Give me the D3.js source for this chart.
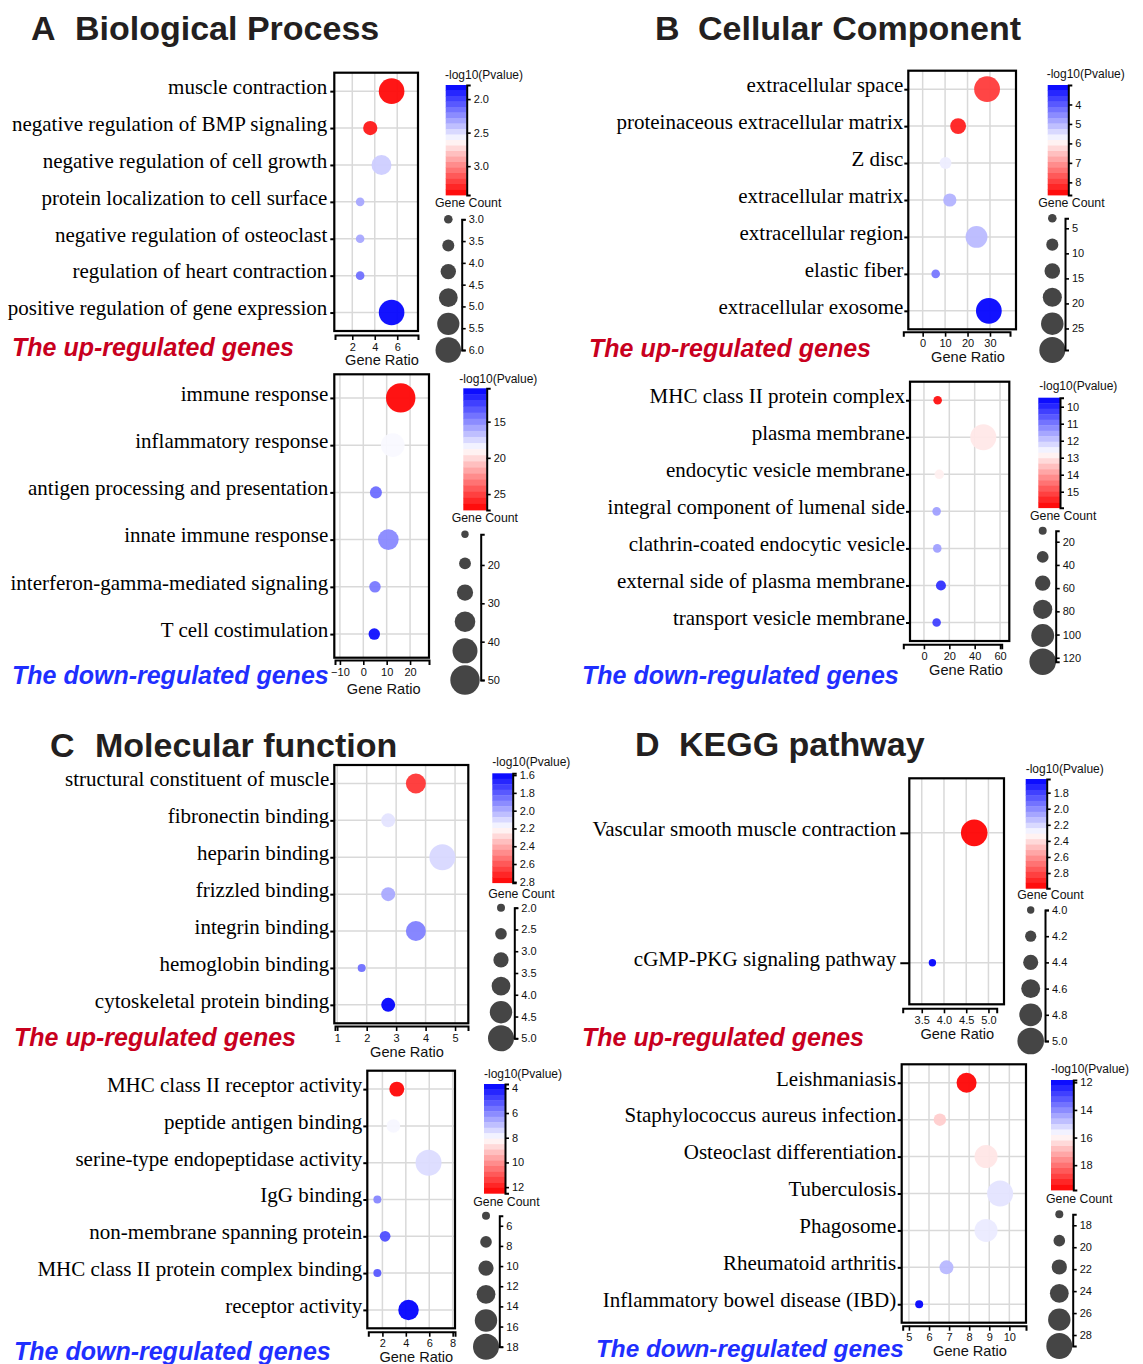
<!DOCTYPE html>
<html><head><meta charset="utf-8">
<script src="https://cdn.jsdelivr.net/npm/d3@7"></script>
<style>body{margin:0;background:#fff} svg{display:block}</style>
</head><body>
<svg id="chart" width="1143" height="1364"></svg>
<script>
// ---------------- DATA ----------------
// A  Biological Process — up-regulated
const A_up_terms = ["muscle contraction","negative regulation of BMP signaling","negative regulation of cell growth","protein localization to cell surface","negative regulation of osteoclast","regulation of heart contraction","positive regulation of gene expression"];
const A_up_ratio = [5.5, 3.6, 4.6, 2.7, 2.7, 2.7, 5.5];
const A_up_logp  = [3.40, 3.35, 2.45, 2.33, 2.33, 2.15, 1.81];
const A_up_count = [6, 4, 5, 3, 3, 3, 6];
const A_up_xTicks = [2, 4, 6];
const A_up_cTicks = [2.0, 2.5, 3.0];
const A_up_sTicks = [3.0, 3.5, 4.0, 4.5, 5.0, 5.5, 6.0];
const A_up_xDomain = [0.4, 7.85], A_up_cDomain = [1.79, 3.43], A_up_sDomain = [3, 6];

// A — down-regulated
const A_dn_terms = ["immune response","inflammatory response","antigen processing and presentation","innate immune response","interferon-gamma-mediated signaling","T cell costimulation"];
const A_dn_ratio = [16.0, 12.6, 5.4, 10.7, 5.0, 4.7];
const A_dn_logp  = [27.0, 18.6, 14.0, 14.9, 14.4, 10.9];
const A_dn_count = [50, 40, 20, 35, 19, 19];
const A_dn_xTicks = [-10, 0, 10, 20];
const A_dn_cTicks = [15, 20, 25];
const A_dn_sTicks = [20, 30, 40, 50];
const A_dn_xDomain = [-12.4, 28.1], A_dn_cDomain = [10.4, 27.2], A_dn_sDomain = [12, 50];

// B  Cellular Component — up
const B_up_terms = ["extracellular space","proteinaceous extracellular matrix","Z disc","extracellular matrix","extracellular region","elastic fiber","extracellular exosome"];
const B_up_ratio = [28.7, 15.8, 10.2, 12.1, 24.0, 5.8, 29.5];
const B_up_logp  = [8.0, 8.3, 5.63, 4.98, 5.07, 4.33, 3.05];
const B_up_count = [29, 14, 8, 10, 23, 3, 29];
const B_up_xTicks = [0, 10, 20, 30];
const B_up_cTicks = [4, 5, 6, 7, 8];
const B_up_sTicks = [5, 10, 15, 20, 25];
const B_up_xDomain = [-6.4, 41.6], B_up_cDomain = [3.0, 8.65], B_up_sDomain = [3, 29.3];

// B — down
const B_dn_terms = ["MHC class II protein complex","plasma membrane","endocytic vesicle membrane","integral component of lumenal side","clathrin-coated endocytic vesicle","external side of plasma membrane","transport vesicle membrane"];
const B_dn_ratio = [10.8, 46.8, 12.1, 10.0, 10.5, 13.4, 10.0];
const B_dn_logp  = [15.74, 13.0, 12.9, 11.5, 11.5, 10.1, 10.3];
const B_dn_count = [14, 120, 19, 14, 14, 23, 14];
const B_dn_xTicks = [0, 20, 40, 60];
const B_dn_cTicks = [10, 11, 12, 13, 14, 15];
const B_dn_sTicks = [20, 40, 60, 80, 100, 120];
const B_dn_xDomain = [-11, 67.3], B_dn_cDomain = [9.47, 15.94], B_dn_sDomain = [10.5, 123.4];

// C  Molecular function — up
const C_up_terms = ["structural constituent of muscle","fibronectin binding","heparin binding","frizzled binding","integrin binding","hemoglobin binding","cytoskeletal protein binding"];
const C_up_ratio = [3.67, 2.73, 4.57, 2.73, 3.67, 1.83, 2.73];
const C_up_logp  = [2.68, 2.13, 2.10, 1.99, 1.89, 1.85, 1.59];
const C_up_count = [4, 3, 5, 3, 4, 2, 3];
const C_up_xTicks = [1, 2, 3, 4, 5];
const C_up_cTicks = [1.6, 1.8, 2.0, 2.2, 2.4, 2.6, 2.8];
const C_up_sTicks = [2.0, 2.5, 3.0, 3.5, 4.0, 4.5, 5.0];
const C_up_xDomain = [0.9, 5.45], C_up_cDomain = [1.58, 2.81], C_up_sDomain = [2, 5];

// C — down
const C_dn_terms = ["MHC class II receptor activity","peptide antigen binding","serine-type endopeptidase activity","IgG binding","non-membrane spanning protein","MHC class II protein complex binding","receptor activity"];
const C_dn_ratio = [3.23, 2.94, 5.94, 1.57, 2.23, 1.57, 4.23];
const C_dn_logp  = [12.4, 7.94, 7.46, 6.0, 5.0, 5.2, 3.7];
const C_dn_count = [10, 9, 18, 5, 7, 5, 14];
const C_dn_xTicks = [2, 4, 6, 8];
const C_dn_cTicks = [4, 6, 8, 10, 12];
const C_dn_sTicks = [6, 8, 10, 12, 14, 16, 18];
const C_dn_xDomain = [0.71, 8.2], C_dn_cDomain = [3.65, 12.5], C_dn_sDomain = [5, 18];

// D  KEGG pathway — up
const D_up_terms = ["Vascular smooth muscle contraction","cGMP-PKG signaling pathway"];
const D_up_ratio = [4.68, 3.74];
const D_up_logp  = [2.98, 1.64];
const D_up_count = [5, 4];
const D_up_xTicks = [3.5, 4.0, 4.5, 5.0];
const D_up_cTicks = [1.8, 2.0, 2.2, 2.4, 2.6, 2.8];
const D_up_sTicks = [4.0, 4.2, 4.4, 4.6, 4.8, 5.0];
const D_up_xDomain = [3.22, 5.35], D_up_cDomain = [1.63, 2.99], D_up_sDomain = [4, 5];

// D — down
const D_dn_terms = ["Leishmaniasis","Staphylococcus aureus infection","Osteoclast differentiation","Tuberculosis","Phagosome","Rheumatoid arthritis","Inflammatory bowel disease (IBD)"];
const D_dn_ratio = [7.87, 6.54, 8.84, 9.54, 8.84, 6.87, 5.51];
const D_dn_logp  = [19.7, 16.6, 16.2, 15.4, 15.5, 14.7, 11.9];
const D_dn_count = [25, 20, 27, 29, 27, 21, 17];
const D_dn_xTicks = [5, 6, 7, 8, 9, 10];
const D_dn_cTicks = [12, 14, 16, 18];
const D_dn_sTicks = [18, 20, 22, 24, 26, 28];
const D_dn_xDomain = [4.64, 10.83], D_dn_cDomain = [11.83, 19.8], D_dn_sDomain = [17, 29];

const sectionTitles = [
  {letter: "A", text: "Biological Process", lx: 31, tx: 75, y: 40, size: 34},
  {letter: "B", text: "Cellular Component", lx: 655, tx: 698, y: 40, size: 34},
  {letter: "C", text: "Molecular function", lx: 50, tx: 95, y: 757, size: 34},
  {letter: "D", text: "KEGG pathway", lx: 635, tx: 679, y: 756, size: 34}
];
const UP_LABEL = "The up-regulated genes", DOWN_LABEL = "The down-regulated genes";

// ---------------- LAYOUT (positions only) ----------------
const layouts = {
  A_up: {fx:[334.3,418], fy:[72.7,331], pad:[0.5,0.5], axisY:335, ax:[335,418], tickLen:4, gap:7,
         cbar:[445.7,466.7,85,195], cTitle:[445,79], sTitle:[435,207], scx:448.3, sax:461.7, sy:[219.3,350], r:[4.3,12.8], gr:382, grY:365, sub:[12,356], fmtX:"d", fmtC:".1f", fmtS:".1f"},
  A_dn: {fx:[334.3,429], fy:[374.3,657.7], pad:[0.5,0.5], axisY:660, ax:[335,429], tickLen:4, gap:6,
         cbar:[463.3,486.7,388.3,510], cTitle:[459.3,383], sTitle:[451.7,522], scx:465, sax:480.7, sy:[534.3,680], r:[3.7,14.7], gr:383.7, grY:694, sub:[12,684], fmtX:"d", fmtC:"d", fmtS:"d"},
  B_up: {fx:[908.3,1016], fy:[70.7,329.3], pad:[0.5,0.5], axisY:331.7, ax:[903.3,1010], tickLen:4, gap:5,
         cbar:[1047.7,1068.3,85,195], cTitle:[1046.7,78], sTitle:[1038.3,207], scx:1052.3, sax:1065, sy:[218.3,350], r:[4.3,13], gr:968, grY:362, sub:[589,357], fmtX:"d", fmtC:"d", fmtS:"d"},
  B_dn: {fx:[910,1009.3], fy:[381.7,641], pad:[0.5,0.5], axisY:644.3, ax:[903.3,1001.7], tickLen:4, gap:5,
         cbar:[1038.3,1060,397.7,507.7], cTitle:[1039.3,390], sTitle:[1030,520], scx:1042.7, sax:1055.7, sy:[530.7,661.7], r:[4,13.3], gr:966, grY:675, sub:[582,684], fmtX:"d", fmtC:"d", fmtS:"d"},
  C_up: {fx:[334.3,468.3], fy:[765,1023.3], pad:[0.5,0.5], axisY:1026, ax:[335,468], tickLen:4, gap:5,
         cbar:[492.3,512.7,773.3,882.7], cTitle:[492.3,766], sTitle:[488.3,897.5], scx:501, sax:514.3, sy:[907.7,1038.3], r:[4,13], gr:407, grY:1057, sub:[14,1046], fmtX:"d", fmtC:".1f", fmtS:".1f"},
  C_dn: {fx:[367.3,455], fy:[1070.7,1328.3], pad:[0.5,0.5], axisY:1331.7, ax:[368.3,455], tickLen:4, gap:5,
         cbar:[484,505,1084,1193.3], cTitle:[484,1078], sTitle:[473.3,1206], scx:486, sax:499.3, sy:[1215.7,1346.7], r:[4,13], gr:416.3, grY:1362, sub:[14,1360], fmtX:"d", fmtC:"d", fmtS:"d"},
  D_up: {fx:[909.3,1004], fy:[778.3,1004.3], pad:[0.42,0.32], axisY:1008.3, ax:[902.7,996.7], tickLen:9, gap:13,
         cbar:[1025.7,1046.7,779,888.3], cTitle:[1025.7,772.5], sTitle:[1017.3,899], scx:1030.7, sax:1045, sy:[910,1041], r:[3.7,13.3], gr:957.3, grY:1038.7, sub:[582,1046], fmtX:".1f", fmtC:".1f", fmtS:".1f"},
  D_dn: {fx:[901.7,1026], fy:[1064.3,1322.7], pad:[0.5,0.5], axisY:1325.7, ax:[902.7,1026], tickLen:4, gap:5.5,
         cbar:[1051,1073.3,1080,1190], cTitle:[1051,1073], sTitle:[1046,1203], scx:1059.3, sax:1072.7, sy:[1214.3,1346], r:[4,13], gr:970, grY:1356, sub:[596,1357], subSize:24.3, fmtX:"d", fmtC:"d", fmtS:"d"}
};

const panels = [
  {key:"A_up", up:true,  terms:A_up_terms, ratio:A_up_ratio, logp:A_up_logp, count:A_up_count, xTicks:A_up_xTicks, cTicks:A_up_cTicks, sTicks:A_up_sTicks, xDomain:A_up_xDomain, cDomain:A_up_cDomain, sDomain:A_up_sDomain},
  {key:"A_dn", up:false, terms:A_dn_terms, ratio:A_dn_ratio, logp:A_dn_logp, count:A_dn_count, xTicks:A_dn_xTicks, cTicks:A_dn_cTicks, sTicks:A_dn_sTicks, xDomain:A_dn_xDomain, cDomain:A_dn_cDomain, sDomain:A_dn_sDomain},
  {key:"B_up", up:true,  terms:B_up_terms, ratio:B_up_ratio, logp:B_up_logp, count:B_up_count, xTicks:B_up_xTicks, cTicks:B_up_cTicks, sTicks:B_up_sTicks, xDomain:B_up_xDomain, cDomain:B_up_cDomain, sDomain:B_up_sDomain},
  {key:"B_dn", up:false, terms:B_dn_terms, ratio:B_dn_ratio, logp:B_dn_logp, count:B_dn_count, xTicks:B_dn_xTicks, cTicks:B_dn_cTicks, sTicks:B_dn_sTicks, xDomain:B_dn_xDomain, cDomain:B_dn_cDomain, sDomain:B_dn_sDomain},
  {key:"C_up", up:true,  terms:C_up_terms, ratio:C_up_ratio, logp:C_up_logp, count:C_up_count, xTicks:C_up_xTicks, cTicks:C_up_cTicks, sTicks:C_up_sTicks, xDomain:C_up_xDomain, cDomain:C_up_cDomain, sDomain:C_up_sDomain},
  {key:"C_dn", up:false, terms:C_dn_terms, ratio:C_dn_ratio, logp:C_dn_logp, count:C_dn_count, xTicks:C_dn_xTicks, cTicks:C_dn_cTicks, sTicks:C_dn_sTicks, xDomain:C_dn_xDomain, cDomain:C_dn_cDomain, sDomain:C_dn_sDomain},
  {key:"D_up", up:true,  terms:D_up_terms, ratio:D_up_ratio, logp:D_up_logp, count:D_up_count, xTicks:D_up_xTicks, cTicks:D_up_cTicks, sTicks:D_up_sTicks, xDomain:D_up_xDomain, cDomain:D_up_cDomain, sDomain:D_up_sDomain},
  {key:"D_dn", up:false, terms:D_dn_terms, ratio:D_dn_ratio, logp:D_dn_logp, count:D_dn_count, xTicks:D_dn_xTicks, cTicks:D_dn_cTicks, sTicks:D_dn_sTicks, xDomain:D_dn_xDomain, cDomain:D_dn_cDomain, sDomain:D_dn_sDomain}
];

// ---------------- DRAW ----------------
const SANS = "'Liberation Sans', Arial, Helvetica, sans-serif";
const SERIF = "'Liberation Serif', 'Times New Roman', serif";
const svg = d3.select("#chart");
svg.append("rect").attr("width",1143).attr("height",1364).attr("fill","#fff");

sectionTitles.forEach(t => {
  svg.append("text").attr("x", t.lx).attr("y", t.y).text(t.letter)
    .attr("font-family", SANS).attr("font-weight", "bold").attr("font-size", t.size).attr("fill", "#231f20");
  svg.append("text").attr("x", t.tx).attr("y", t.y).text(t.text)
    .attr("font-family", SANS).attr("font-weight", "bold").attr("font-size", t.size).attr("fill", "#231f20");
});

function styleAxis(sel, fontSize) {
  sel.select(".domain").attr("stroke", "#000").attr("stroke-width", 2);
  sel.selectAll(".tick line").attr("stroke", "#000").attr("stroke-width", 1.6);
  sel.selectAll(".tick text").attr("font-family", SANS).attr("font-size", fontSize).attr("fill", "#111");
}

function drawPanel(p) {
  const L = layouts[p.key];
  const g = svg.append("g").attr("class", "panel-" + p.key);
  const n = p.terms.length;
  const x = d3.scaleLinear().domain(p.xDomain).range(L.fx);
  const y = d3.scaleLinear().domain([-L.pad[0], n - 1 + L.pad[1]]).range(L.fy);
  const cMid = (p.cDomain[0] + p.cDomain[1]) / 2;
  const color = d3.scaleLinear().domain([p.cDomain[0], cMid, p.cDomain[1]])
    .range(["#0000ff", "#ffffff", "#ff0000"]).clamp(true);
  const r = d3.scaleLinear().domain(p.sDomain).range(L.r);

  // grid
  g.append("g").selectAll("line").data(p.xTicks).join("line")
    .attr("x1", d => x(d)).attr("x2", d => x(d)).attr("y1", L.fy[0]).attr("y2", L.fy[1])
    .attr("stroke", "#d9d9d9").attr("stroke-width", 1.5);
  g.append("g").selectAll("line").data(d3.range(n)).join("line")
    .attr("y1", i => y(i)).attr("y2", i => y(i)).attr("x1", L.fx[0]).attr("x2", L.fx[1])
    .attr("stroke", "#d9d9d9").attr("stroke-width", 1.5);

  // bubbles
  const rows = p.terms.map((t, i) => ({i, t, ratio: p.ratio[i], logp: p.logp[i], count: p.count[i]}));
  g.append("g").selectAll("circle").data(rows).join("circle")
    .attr("cx", d => x(d.ratio)).attr("cy", d => y(d.i)).attr("r", d => r(d.count))
    .attr("fill", d => color(d.logp)).attr("fill-opacity", 0.95);

  // frame
  g.append("rect").attr("x", L.fx[0]).attr("y", L.fy[0])
    .attr("width", L.fx[1] - L.fx[0]).attr("height", L.fy[1] - L.fy[0])
    .attr("fill", "none").attr("stroke", "#000").attr("stroke-width", 2.2);

  // y axis (categories)
  const ya = g.append("g").attr("transform", `translate(${L.fx[0]},0)`)
    .call(d3.axisLeft(y).tickValues(d3.range(n)).tickFormat(i => p.terms[i])
      .tickSize(L.tickLen).tickPadding(Math.max(0, L.gap - L.tickLen)));
  ya.select(".domain").remove();
  ya.selectAll(".tick line").attr("stroke", "#000").attr("stroke-width", 2);
  ya.selectAll(".tick text").attr("font-family", SERIF).attr("font-size", 21)
    .attr("fill", "#000").attr("dy", "0.11em");

  // x axis
  const axS = d3.scaleLinear().domain([x.invert(L.ax[0]), x.invert(L.ax[1])]).range(L.ax);
  const xa = g.append("g").attr("transform", `translate(0,${L.axisY})`)
    .call(d3.axisBottom(axS).tickValues(p.xTicks).tickSizeInner(5).tickSizeOuter(5)
      .tickPadding(3).tickFormat(d3.format(L.fmtX)));
  styleAxis(xa, 11);
  g.append("text").attr("x", L.gr).attr("y", L.grY).attr("text-anchor", "middle")
    .attr("font-family", SANS).attr("font-size", 14.6).attr("fill", "#111").text("Gene Ratio");

  // colour legend
  const [bx0, bx1, by0, by1] = L.cbar;
  const cs = d3.scaleLinear().domain(p.cDomain).range([by0, by1]);
  const NB = 20, step = (p.cDomain[1] - p.cDomain[0]) / NB;
  const bands = d3.range(NB).map(k => p.cDomain[0] + (k + 0.5) * step);
  g.append("g").selectAll("rect").data(bands).join("rect")
    .attr("x", bx0).attr("width", bx1 - bx0)
    .attr("y", d => cs(d - step / 2)).attr("height", d => cs(d + step / 2) - cs(d - step / 2) + 0.4)
    .attr("fill", d => color(d));
  const ca = g.append("g").attr("transform", `translate(${bx1},0)`)
    .call(d3.axisRight(cs).tickValues(p.cTicks).tickSizeInner(4).tickSizeOuter(4)
      .tickPadding(3).tickFormat(d3.format(L.fmtC)));
  styleAxis(ca, 11);
  g.append("text").attr("x", L.cTitle[0]).attr("y", L.cTitle[1])
    .attr("font-family", SANS).attr("font-size", 12).attr("fill", "#111").text("-log10(Pvalue)");

  // size legend
  const ss = d3.scaleLinear().domain(p.sDomain).range(L.sy);
  const legVals = d3.range(6).map(k => p.sDomain[0] + k / 5 * (p.sDomain[1] - p.sDomain[0]));
  g.append("g").selectAll("circle").data(legVals).join("circle")
    .attr("cx", L.scx).attr("cy", d => ss(d)).attr("r", d => r(d)).attr("fill", "#454545");
  const sa = g.append("g").attr("transform", `translate(${L.sax},0)`)
    .call(d3.axisRight(ss).tickValues(p.sTicks).tickSizeInner(4).tickSizeOuter(4)
      .tickPadding(3).tickFormat(d3.format(L.fmtS)));
  styleAxis(sa, 11);
  g.append("text").attr("x", L.sTitle[0]).attr("y", L.sTitle[1])
    .attr("font-family", SANS).attr("font-size", 12.3).attr("fill", "#111").text("Gene Count");

  // sub label
  g.append("text").attr("x", L.sub[0]).attr("y", L.sub[1])
    .attr("font-family", SANS).attr("font-weight", "bold").attr("font-style", "italic")
    .attr("font-size", L.subSize || 25).attr("fill", p.up ? "#c8001e" : "#1f2fff")
    .text(p.up ? UP_LABEL : DOWN_LABEL);
}

panels.forEach(drawPanel);
</script>
</body></html>
